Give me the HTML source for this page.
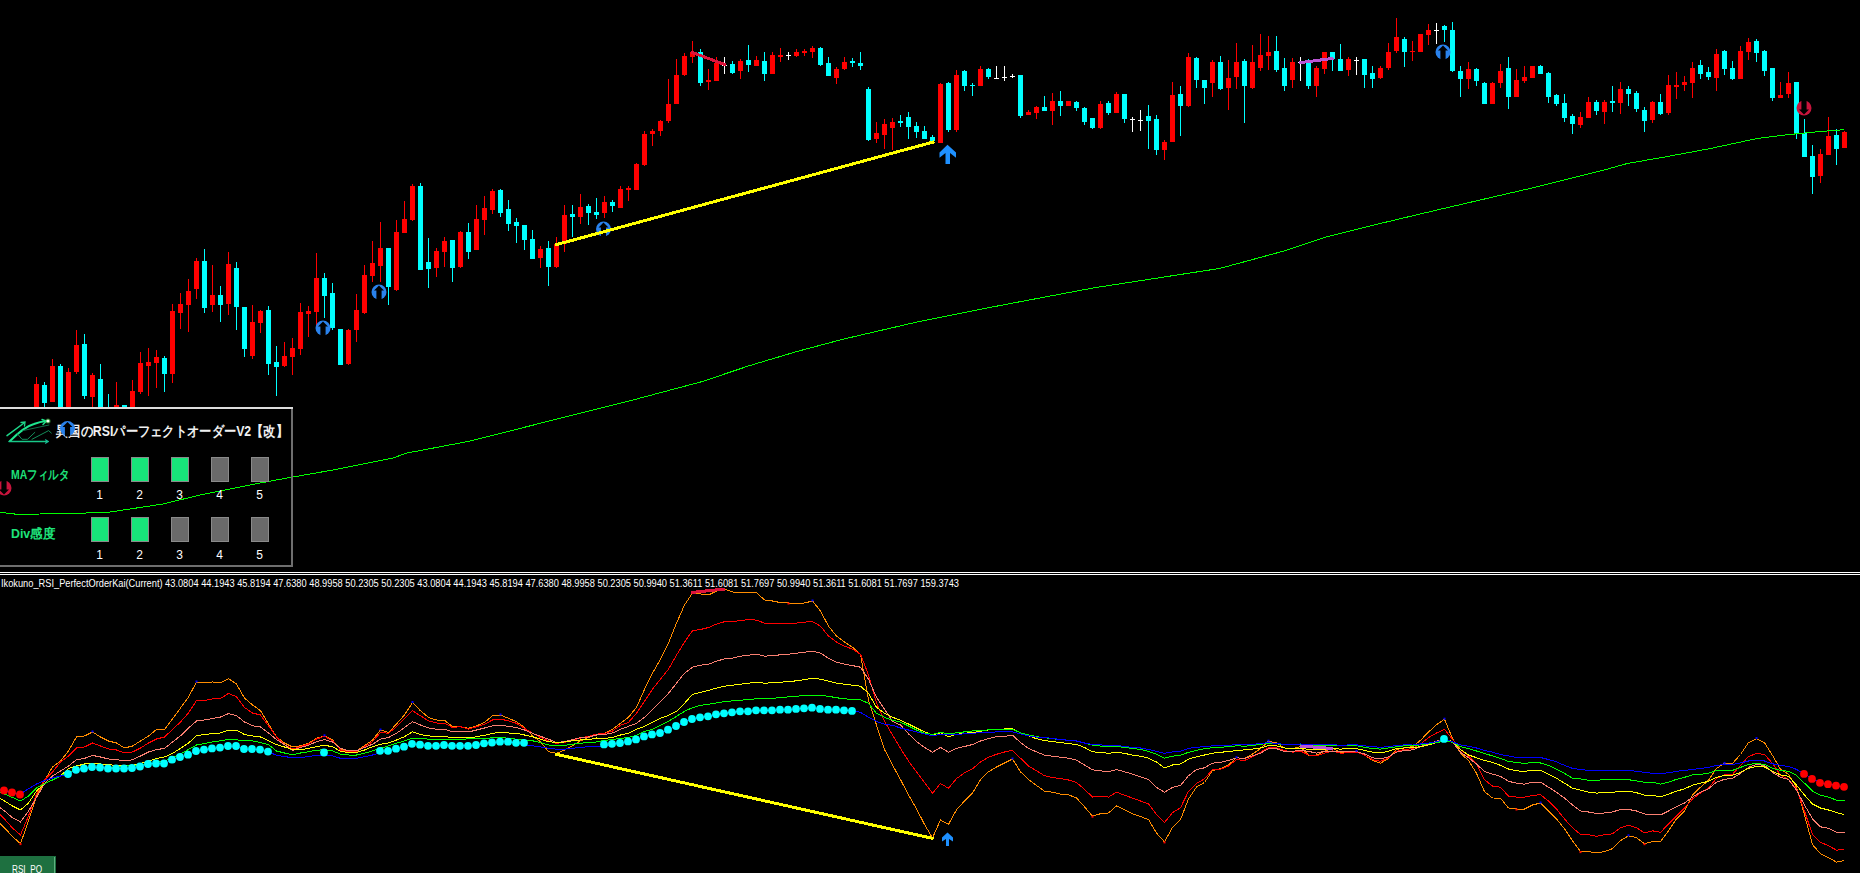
<!DOCTYPE html>
<html><head><meta charset="utf-8"><style>
html,body{margin:0;padding:0;background:#000;width:1860px;height:873px;overflow:hidden}
svg{display:block;font-family:"Liberation Sans",sans-serif}
</style></head><body>
<svg width="1860" height="873" viewBox="0 0 1860 873">
<rect width="1860" height="873" fill="#000"/>
<g shape-rendering="crispEdges">
<rect x="36" y="377" width="1" height="43" fill="#ff0000"/>
<rect x="34" y="384" width="5" height="36" fill="#ff0000"/>
<rect x="44" y="382" width="1" height="28" fill="#00ffff"/>
<rect x="42" y="385" width="5" height="18" fill="#00ffff"/>
<rect x="52" y="359" width="1" height="43" fill="#ff0000"/>
<rect x="50" y="366" width="5" height="36" fill="#ff0000"/>
<rect x="60" y="364" width="1" height="56" fill="#00ffff"/>
<rect x="58" y="366" width="5" height="54" fill="#00ffff"/>
<rect x="68" y="368" width="1" height="52" fill="#ff0000"/>
<rect x="66" y="372" width="5" height="48" fill="#ff0000"/>
<rect x="76" y="330" width="1" height="44" fill="#ff0000"/>
<rect x="74" y="345" width="5" height="27" fill="#ff0000"/>
<rect x="84" y="334" width="1" height="65" fill="#00ffff"/>
<rect x="82" y="344" width="5" height="52" fill="#00ffff"/>
<rect x="92" y="373" width="1" height="47" fill="#ff0000"/>
<rect x="90" y="375" width="5" height="22" fill="#ff0000"/>
<rect x="100" y="364" width="1" height="56" fill="#00ffff"/>
<rect x="98" y="379" width="5" height="41" fill="#00ffff"/>
<rect x="108" y="394" width="1" height="26" fill="#00ffff"/>
<rect x="106" y="410" width="5" height="10" fill="#00ffff"/>
<rect x="116" y="382" width="1" height="38" fill="#ff0000"/>
<rect x="114" y="405" width="5" height="15" fill="#ff0000"/>
<rect x="124" y="405" width="1" height="15" fill="#00ffff"/>
<rect x="122" y="405" width="5" height="15" fill="#00ffff"/>
<rect x="132" y="380" width="1" height="40" fill="#ff0000"/>
<rect x="130" y="391" width="5" height="29" fill="#ff0000"/>
<rect x="140" y="352" width="1" height="42" fill="#ff0000"/>
<rect x="138" y="363" width="5" height="29" fill="#ff0000"/>
<rect x="148" y="348" width="1" height="48" fill="#ff0000"/>
<rect x="146" y="362" width="5" height="4" fill="#ff0000"/>
<rect x="156" y="350" width="1" height="38" fill="#ff0000"/>
<rect x="154" y="357" width="5" height="6" fill="#ff0000"/>
<rect x="164" y="356" width="1" height="36" fill="#00ffff"/>
<rect x="162" y="358" width="5" height="16" fill="#00ffff"/>
<rect x="172" y="304" width="1" height="79" fill="#ff0000"/>
<rect x="170" y="311" width="5" height="63" fill="#ff0000"/>
<rect x="180" y="293" width="1" height="36" fill="#ff0000"/>
<rect x="178" y="304" width="5" height="9" fill="#ff0000"/>
<rect x="188" y="279" width="1" height="53" fill="#ff0000"/>
<rect x="186" y="291" width="5" height="14" fill="#ff0000"/>
<rect x="196" y="258" width="1" height="41" fill="#ff0000"/>
<rect x="194" y="261" width="5" height="28" fill="#ff0000"/>
<rect x="204" y="249" width="1" height="64" fill="#00ffff"/>
<rect x="202" y="261" width="5" height="47" fill="#00ffff"/>
<rect x="212" y="265" width="1" height="47" fill="#ff0000"/>
<rect x="210" y="295" width="5" height="10" fill="#ff0000"/>
<rect x="220" y="286" width="1" height="36" fill="#00ffff"/>
<rect x="218" y="295" width="5" height="10" fill="#00ffff"/>
<rect x="228" y="252" width="1" height="63" fill="#ff0000"/>
<rect x="226" y="264" width="5" height="40" fill="#ff0000"/>
<rect x="236" y="262" width="1" height="68" fill="#00ffff"/>
<rect x="234" y="268" width="5" height="39" fill="#00ffff"/>
<rect x="244" y="307" width="1" height="50" fill="#00ffff"/>
<rect x="242" y="307" width="5" height="42" fill="#00ffff"/>
<rect x="252" y="305" width="1" height="54" fill="#ff0000"/>
<rect x="250" y="322" width="5" height="34" fill="#ff0000"/>
<rect x="260" y="310" width="1" height="23" fill="#ff0000"/>
<rect x="258" y="311" width="5" height="12" fill="#ff0000"/>
<rect x="268" y="306" width="1" height="69" fill="#00ffff"/>
<rect x="266" y="310" width="5" height="54" fill="#00ffff"/>
<rect x="276" y="346" width="1" height="50" fill="#00ffff"/>
<rect x="274" y="362" width="5" height="5" fill="#00ffff"/>
<rect x="284" y="342" width="1" height="25" fill="#ff0000"/>
<rect x="282" y="356" width="5" height="10" fill="#ff0000"/>
<rect x="292" y="338" width="1" height="37" fill="#ff0000"/>
<rect x="290" y="348" width="5" height="9" fill="#ff0000"/>
<rect x="300" y="303" width="1" height="52" fill="#ff0000"/>
<rect x="298" y="312" width="5" height="37" fill="#ff0000"/>
<rect x="308" y="306" width="1" height="31" fill="#ff0000"/>
<rect x="306" y="311" width="5" height="3" fill="#ff0000"/>
<rect x="316" y="253" width="1" height="73" fill="#ff0000"/>
<rect x="314" y="278" width="5" height="34" fill="#ff0000"/>
<rect x="324" y="273" width="1" height="45" fill="#00ffff"/>
<rect x="322" y="278" width="5" height="18" fill="#00ffff"/>
<rect x="332" y="283" width="1" height="47" fill="#00ffff"/>
<rect x="330" y="293" width="5" height="35" fill="#00ffff"/>
<rect x="340" y="329" width="1" height="36" fill="#00ffff"/>
<rect x="338" y="329" width="5" height="36" fill="#00ffff"/>
<rect x="348" y="329" width="1" height="36" fill="#ff0000"/>
<rect x="346" y="330" width="5" height="34" fill="#ff0000"/>
<rect x="356" y="294" width="1" height="48" fill="#ff0000"/>
<rect x="354" y="310" width="5" height="20" fill="#ff0000"/>
<rect x="364" y="265" width="1" height="49" fill="#ff0000"/>
<rect x="362" y="275" width="5" height="38" fill="#ff0000"/>
<rect x="372" y="241" width="1" height="41" fill="#ff0000"/>
<rect x="370" y="263" width="5" height="13" fill="#ff0000"/>
<rect x="380" y="222" width="1" height="60" fill="#ff0000"/>
<rect x="378" y="248" width="5" height="18" fill="#ff0000"/>
<rect x="388" y="248" width="1" height="57" fill="#00ffff"/>
<rect x="386" y="248" width="5" height="39" fill="#00ffff"/>
<rect x="396" y="220" width="1" height="71" fill="#ff0000"/>
<rect x="394" y="232" width="5" height="58" fill="#ff0000"/>
<rect x="404" y="201" width="1" height="32" fill="#ff0000"/>
<rect x="402" y="219" width="5" height="14" fill="#ff0000"/>
<rect x="412" y="184" width="1" height="37" fill="#ff0000"/>
<rect x="410" y="186" width="5" height="34" fill="#ff0000"/>
<rect x="420" y="183" width="1" height="87" fill="#00ffff"/>
<rect x="418" y="186" width="5" height="84" fill="#00ffff"/>
<rect x="428" y="238" width="1" height="50" fill="#00ffff"/>
<rect x="426" y="262" width="5" height="7" fill="#00ffff"/>
<rect x="436" y="248" width="1" height="29" fill="#ff0000"/>
<rect x="434" y="251" width="5" height="17" fill="#ff0000"/>
<rect x="444" y="237" width="1" height="30" fill="#ff0000"/>
<rect x="442" y="241" width="5" height="11" fill="#ff0000"/>
<rect x="452" y="240" width="1" height="42" fill="#00ffff"/>
<rect x="450" y="240" width="5" height="28" fill="#00ffff"/>
<rect x="460" y="231" width="1" height="37" fill="#ff0000"/>
<rect x="458" y="232" width="5" height="35" fill="#ff0000"/>
<rect x="468" y="223" width="1" height="36" fill="#00ffff"/>
<rect x="466" y="232" width="5" height="20" fill="#00ffff"/>
<rect x="476" y="205" width="1" height="45" fill="#ff0000"/>
<rect x="474" y="219" width="5" height="31" fill="#ff0000"/>
<rect x="484" y="196" width="1" height="39" fill="#ff0000"/>
<rect x="482" y="208" width="5" height="12" fill="#ff0000"/>
<rect x="492" y="189" width="1" height="25" fill="#ff0000"/>
<rect x="490" y="191" width="5" height="19" fill="#ff0000"/>
<rect x="500" y="189" width="1" height="28" fill="#00ffff"/>
<rect x="498" y="190" width="5" height="23" fill="#00ffff"/>
<rect x="508" y="200" width="1" height="31" fill="#00ffff"/>
<rect x="506" y="209" width="5" height="15" fill="#00ffff"/>
<rect x="516" y="218" width="1" height="25" fill="#00ffff"/>
<rect x="514" y="222" width="5" height="4" fill="#00ffff"/>
<rect x="524" y="225" width="1" height="25" fill="#00ffff"/>
<rect x="522" y="225" width="5" height="15" fill="#00ffff"/>
<rect x="532" y="230" width="1" height="29" fill="#00ffff"/>
<rect x="530" y="239" width="5" height="20" fill="#00ffff"/>
<rect x="540" y="246" width="1" height="22" fill="#ff0000"/>
<rect x="538" y="249" width="5" height="9" fill="#ff0000"/>
<rect x="548" y="241" width="1" height="45" fill="#00ffff"/>
<rect x="546" y="248" width="5" height="19" fill="#00ffff"/>
<rect x="556" y="237" width="1" height="31" fill="#ff0000"/>
<rect x="554" y="244" width="5" height="23" fill="#ff0000"/>
<rect x="564" y="205" width="1" height="47" fill="#ff0000"/>
<rect x="562" y="215" width="5" height="29" fill="#ff0000"/>
<rect x="572" y="205" width="1" height="32" fill="#00ffff"/>
<rect x="570" y="214" width="5" height="3" fill="#00ffff"/>
<rect x="580" y="194" width="1" height="30" fill="#ff0000"/>
<rect x="578" y="207" width="5" height="10" fill="#ff0000"/>
<rect x="588" y="204" width="1" height="21" fill="#00ffff"/>
<rect x="586" y="206" width="5" height="7" fill="#00ffff"/>
<rect x="596" y="198" width="1" height="21" fill="#00ffff"/>
<rect x="594" y="212" width="5" height="3" fill="#00ffff"/>
<rect x="604" y="196" width="1" height="22" fill="#ff0000"/>
<rect x="602" y="202" width="5" height="11" fill="#ff0000"/>
<rect x="612" y="200" width="1" height="12" fill="#00ffff"/>
<rect x="610" y="202" width="5" height="4" fill="#00ffff"/>
<rect x="620" y="186" width="1" height="22" fill="#ff0000"/>
<rect x="618" y="189" width="5" height="19" fill="#ff0000"/>
<rect x="628" y="186" width="1" height="15" fill="#ff0000"/>
<rect x="626" y="188" width="5" height="2" fill="#ff0000"/>
<rect x="636" y="163" width="1" height="27" fill="#ff0000"/>
<rect x="634" y="164" width="5" height="26" fill="#ff0000"/>
<rect x="644" y="131" width="1" height="35" fill="#ff0000"/>
<rect x="642" y="134" width="5" height="31" fill="#ff0000"/>
<rect x="652" y="129" width="1" height="17" fill="#ff0000"/>
<rect x="650" y="131" width="5" height="3" fill="#ff0000"/>
<rect x="660" y="120" width="1" height="16" fill="#ff0000"/>
<rect x="658" y="121" width="5" height="10" fill="#ff0000"/>
<rect x="668" y="79" width="1" height="44" fill="#ff0000"/>
<rect x="666" y="104" width="5" height="17" fill="#ff0000"/>
<rect x="676" y="59" width="1" height="45" fill="#ff0000"/>
<rect x="674" y="75" width="5" height="29" fill="#ff0000"/>
<rect x="684" y="53" width="1" height="23" fill="#ff0000"/>
<rect x="682" y="56" width="5" height="19" fill="#ff0000"/>
<rect x="692" y="41" width="1" height="22" fill="#ff0000"/>
<rect x="690" y="52" width="5" height="5" fill="#ff0000"/>
<rect x="700" y="49" width="1" height="37" fill="#00ffff"/>
<rect x="698" y="52" width="5" height="31" fill="#00ffff"/>
<rect x="708" y="69" width="1" height="21" fill="#ff0000"/>
<rect x="706" y="80" width="5" height="2" fill="#ff0000"/>
<rect x="716" y="57" width="1" height="24" fill="#ff0000"/>
<rect x="714" y="63" width="5" height="18" fill="#ff0000"/>
<rect x="724" y="57" width="1" height="17" fill="#ffffff"/>
<rect x="722" y="65" width="5" height="1" fill="#ffffff"/>
<rect x="732" y="61" width="1" height="13" fill="#00ffff"/>
<rect x="730" y="64" width="5" height="9" fill="#00ffff"/>
<rect x="740" y="59" width="1" height="20" fill="#ff0000"/>
<rect x="738" y="61" width="5" height="10" fill="#ff0000"/>
<rect x="748" y="45" width="1" height="27" fill="#00ffff"/>
<rect x="746" y="60" width="5" height="5" fill="#00ffff"/>
<rect x="756" y="56" width="1" height="10" fill="#ff0000"/>
<rect x="754" y="60" width="5" height="6" fill="#ff0000"/>
<rect x="764" y="52" width="1" height="29" fill="#00ffff"/>
<rect x="762" y="61" width="5" height="13" fill="#00ffff"/>
<rect x="772" y="52" width="1" height="22" fill="#ff0000"/>
<rect x="770" y="55" width="5" height="19" fill="#ff0000"/>
<rect x="780" y="48" width="1" height="14" fill="#ff0000"/>
<rect x="778" y="55" width="5" height="2" fill="#ff0000"/>
<rect x="788" y="52" width="1" height="8" fill="#ffffff"/>
<rect x="786" y="55" width="5" height="1" fill="#ffffff"/>
<rect x="796" y="49" width="1" height="8" fill="#ff0000"/>
<rect x="794" y="52" width="5" height="4" fill="#ff0000"/>
<rect x="804" y="49" width="1" height="7" fill="#ff0000"/>
<rect x="802" y="51" width="5" height="2" fill="#ff0000"/>
<rect x="812" y="46" width="1" height="12" fill="#ff0000"/>
<rect x="810" y="48" width="5" height="4" fill="#ff0000"/>
<rect x="820" y="47" width="1" height="19" fill="#00ffff"/>
<rect x="818" y="48" width="5" height="17" fill="#00ffff"/>
<rect x="828" y="57" width="1" height="19" fill="#00ffff"/>
<rect x="826" y="63" width="5" height="13" fill="#00ffff"/>
<rect x="836" y="67" width="1" height="17" fill="#ff0000"/>
<rect x="834" y="69" width="5" height="9" fill="#ff0000"/>
<rect x="844" y="57" width="1" height="13" fill="#ff0000"/>
<rect x="842" y="62" width="5" height="7" fill="#ff0000"/>
<rect x="852" y="58" width="1" height="9" fill="#00ffff"/>
<rect x="850" y="61" width="5" height="2" fill="#00ffff"/>
<rect x="860" y="52" width="1" height="18" fill="#00ffff"/>
<rect x="858" y="63" width="5" height="3" fill="#00ffff"/>
<rect x="868" y="87" width="1" height="54" fill="#00ffff"/>
<rect x="866" y="89" width="5" height="51" fill="#00ffff"/>
<rect x="876" y="122" width="1" height="21" fill="#ff0000"/>
<rect x="874" y="133" width="5" height="6" fill="#ff0000"/>
<rect x="884" y="119" width="1" height="30" fill="#ff0000"/>
<rect x="882" y="124" width="5" height="11" fill="#ff0000"/>
<rect x="892" y="118" width="1" height="32" fill="#ff0000"/>
<rect x="890" y="122" width="5" height="6" fill="#ff0000"/>
<rect x="900" y="115" width="1" height="12" fill="#00ffff"/>
<rect x="898" y="121" width="5" height="2" fill="#00ffff"/>
<rect x="908" y="112" width="1" height="27" fill="#00ffff"/>
<rect x="906" y="117" width="5" height="10" fill="#00ffff"/>
<rect x="916" y="122" width="1" height="16" fill="#00ffff"/>
<rect x="914" y="126" width="5" height="6" fill="#00ffff"/>
<rect x="924" y="126" width="1" height="13" fill="#00ffff"/>
<rect x="922" y="131" width="5" height="8" fill="#00ffff"/>
<rect x="932" y="135" width="1" height="6" fill="#00ffff"/>
<rect x="930" y="137" width="5" height="4" fill="#00ffff"/>
<rect x="940" y="83" width="1" height="60" fill="#ff0000"/>
<rect x="938" y="84" width="5" height="59" fill="#ff0000"/>
<rect x="948" y="82" width="1" height="50" fill="#00ffff"/>
<rect x="946" y="83" width="5" height="47" fill="#00ffff"/>
<rect x="956" y="70" width="1" height="62" fill="#ff0000"/>
<rect x="954" y="75" width="5" height="55" fill="#ff0000"/>
<rect x="964" y="70" width="1" height="21" fill="#00ffff"/>
<rect x="962" y="71" width="5" height="15" fill="#00ffff"/>
<rect x="972" y="83" width="1" height="13" fill="#00ffff"/>
<rect x="970" y="85" width="5" height="1" fill="#00ffff"/>
<rect x="980" y="66" width="1" height="20" fill="#ff0000"/>
<rect x="978" y="69" width="5" height="17" fill="#ff0000"/>
<rect x="988" y="68" width="1" height="11" fill="#00ffff"/>
<rect x="986" y="69" width="5" height="8" fill="#00ffff"/>
<rect x="996" y="66" width="1" height="12" fill="#ffffff"/>
<rect x="994" y="78" width="5" height="1" fill="#ffffff"/>
<rect x="1004" y="66" width="1" height="15" fill="#ffffff"/>
<rect x="1002" y="77" width="5" height="1" fill="#ffffff"/>
<rect x="1012" y="74" width="1" height="4" fill="#ffffff"/>
<rect x="1010" y="76" width="5" height="1" fill="#ffffff"/>
<rect x="1020" y="75" width="1" height="43" fill="#00ffff"/>
<rect x="1018" y="75" width="5" height="41" fill="#00ffff"/>
<rect x="1028" y="110" width="1" height="5" fill="#ff0000"/>
<rect x="1026" y="112" width="5" height="3" fill="#ff0000"/>
<rect x="1036" y="106" width="1" height="13" fill="#ff0000"/>
<rect x="1034" y="107" width="5" height="6" fill="#ff0000"/>
<rect x="1044" y="96" width="1" height="15" fill="#00ffff"/>
<rect x="1042" y="107" width="5" height="4" fill="#00ffff"/>
<rect x="1052" y="93" width="1" height="32" fill="#ff0000"/>
<rect x="1050" y="101" width="5" height="10" fill="#ff0000"/>
<rect x="1060" y="91" width="1" height="25" fill="#00ffff"/>
<rect x="1058" y="101" width="5" height="5" fill="#00ffff"/>
<rect x="1068" y="101" width="1" height="5" fill="#ff0000"/>
<rect x="1066" y="101" width="5" height="5" fill="#ff0000"/>
<rect x="1076" y="101" width="1" height="10" fill="#00ffff"/>
<rect x="1074" y="102" width="5" height="6" fill="#00ffff"/>
<rect x="1084" y="107" width="1" height="18" fill="#00ffff"/>
<rect x="1082" y="108" width="5" height="14" fill="#00ffff"/>
<rect x="1092" y="118" width="1" height="11" fill="#00ffff"/>
<rect x="1090" y="118" width="5" height="10" fill="#00ffff"/>
<rect x="1100" y="101" width="1" height="28" fill="#ff0000"/>
<rect x="1098" y="104" width="5" height="24" fill="#ff0000"/>
<rect x="1108" y="101" width="1" height="14" fill="#00ffff"/>
<rect x="1106" y="103" width="5" height="10" fill="#00ffff"/>
<rect x="1116" y="92" width="1" height="21" fill="#ff0000"/>
<rect x="1114" y="94" width="5" height="19" fill="#ff0000"/>
<rect x="1124" y="94" width="1" height="29" fill="#00ffff"/>
<rect x="1122" y="94" width="5" height="25" fill="#00ffff"/>
<rect x="1132" y="117" width="1" height="15" fill="#ffffff"/>
<rect x="1130" y="119" width="5" height="1" fill="#ffffff"/>
<rect x="1140" y="110" width="1" height="21" fill="#ffffff"/>
<rect x="1138" y="120" width="5" height="1" fill="#ffffff"/>
<rect x="1148" y="105" width="1" height="44" fill="#00ffff"/>
<rect x="1146" y="116" width="5" height="5" fill="#00ffff"/>
<rect x="1156" y="115" width="1" height="40" fill="#00ffff"/>
<rect x="1154" y="119" width="5" height="31" fill="#00ffff"/>
<rect x="1164" y="140" width="1" height="20" fill="#ff0000"/>
<rect x="1162" y="142" width="5" height="8" fill="#ff0000"/>
<rect x="1172" y="82" width="1" height="60" fill="#ff0000"/>
<rect x="1170" y="95" width="5" height="47" fill="#ff0000"/>
<rect x="1180" y="86" width="1" height="50" fill="#00ffff"/>
<rect x="1178" y="94" width="5" height="12" fill="#00ffff"/>
<rect x="1188" y="53" width="1" height="54" fill="#ff0000"/>
<rect x="1186" y="57" width="5" height="49" fill="#ff0000"/>
<rect x="1196" y="57" width="1" height="31" fill="#00ffff"/>
<rect x="1194" y="58" width="5" height="22" fill="#00ffff"/>
<rect x="1204" y="80" width="1" height="24" fill="#00ffff"/>
<rect x="1202" y="80" width="5" height="8" fill="#00ffff"/>
<rect x="1212" y="60" width="1" height="37" fill="#ff0000"/>
<rect x="1210" y="62" width="5" height="21" fill="#ff0000"/>
<rect x="1220" y="56" width="1" height="34" fill="#00ffff"/>
<rect x="1218" y="62" width="5" height="27" fill="#00ffff"/>
<rect x="1228" y="60" width="1" height="50" fill="#ff0000"/>
<rect x="1226" y="78" width="5" height="10" fill="#ff0000"/>
<rect x="1236" y="43" width="1" height="46" fill="#ff0000"/>
<rect x="1234" y="62" width="5" height="15" fill="#ff0000"/>
<rect x="1244" y="59" width="1" height="64" fill="#00ffff"/>
<rect x="1242" y="61" width="5" height="25" fill="#00ffff"/>
<rect x="1252" y="45" width="1" height="44" fill="#ff0000"/>
<rect x="1250" y="62" width="5" height="26" fill="#ff0000"/>
<rect x="1260" y="34" width="1" height="37" fill="#ff0000"/>
<rect x="1258" y="55" width="5" height="13" fill="#ff0000"/>
<rect x="1268" y="36" width="1" height="34" fill="#ff0000"/>
<rect x="1266" y="52" width="5" height="4" fill="#ff0000"/>
<rect x="1276" y="36" width="1" height="36" fill="#00ffff"/>
<rect x="1274" y="51" width="5" height="19" fill="#00ffff"/>
<rect x="1284" y="58" width="1" height="33" fill="#00ffff"/>
<rect x="1282" y="68" width="5" height="18" fill="#00ffff"/>
<rect x="1292" y="58" width="1" height="30" fill="#ff0000"/>
<rect x="1290" y="62" width="5" height="18" fill="#ff0000"/>
<rect x="1300" y="57" width="1" height="24" fill="#ffffff"/>
<rect x="1298" y="62" width="5" height="1" fill="#ffffff"/>
<rect x="1308" y="59" width="1" height="30" fill="#00ffff"/>
<rect x="1306" y="62" width="5" height="24" fill="#00ffff"/>
<rect x="1316" y="66" width="1" height="31" fill="#ff0000"/>
<rect x="1314" y="68" width="5" height="18" fill="#ff0000"/>
<rect x="1324" y="52" width="1" height="22" fill="#ff0000"/>
<rect x="1322" y="52" width="5" height="17" fill="#ff0000"/>
<rect x="1332" y="52" width="1" height="19" fill="#00ffff"/>
<rect x="1330" y="52" width="5" height="7" fill="#00ffff"/>
<rect x="1340" y="44" width="1" height="27" fill="#00ffff"/>
<rect x="1338" y="59" width="5" height="12" fill="#00ffff"/>
<rect x="1348" y="57" width="1" height="19" fill="#ff0000"/>
<rect x="1346" y="59" width="5" height="11" fill="#ff0000"/>
<rect x="1356" y="57" width="1" height="18" fill="#ffffff"/>
<rect x="1354" y="60" width="5" height="1" fill="#ffffff"/>
<rect x="1364" y="59" width="1" height="29" fill="#00ffff"/>
<rect x="1362" y="59" width="5" height="16" fill="#00ffff"/>
<rect x="1372" y="66" width="1" height="22" fill="#00ffff"/>
<rect x="1370" y="73" width="5" height="6" fill="#00ffff"/>
<rect x="1380" y="66" width="1" height="13" fill="#ff0000"/>
<rect x="1378" y="68" width="5" height="10" fill="#ff0000"/>
<rect x="1388" y="43" width="1" height="27" fill="#ff0000"/>
<rect x="1386" y="52" width="5" height="16" fill="#ff0000"/>
<rect x="1396" y="18" width="1" height="35" fill="#ff0000"/>
<rect x="1394" y="37" width="5" height="14" fill="#ff0000"/>
<rect x="1404" y="37" width="1" height="30" fill="#00ffff"/>
<rect x="1402" y="39" width="5" height="13" fill="#00ffff"/>
<rect x="1412" y="41" width="1" height="20" fill="#ff0000"/>
<rect x="1410" y="51" width="5" height="1" fill="#ff0000"/>
<rect x="1420" y="34" width="1" height="18" fill="#ff0000"/>
<rect x="1418" y="34" width="5" height="18" fill="#ff0000"/>
<rect x="1428" y="24" width="1" height="21" fill="#ff0000"/>
<rect x="1426" y="30" width="5" height="5" fill="#ff0000"/>
<rect x="1436" y="23" width="1" height="21" fill="#ffffff"/>
<rect x="1434" y="30" width="5" height="1" fill="#ffffff"/>
<rect x="1444" y="25" width="1" height="17" fill="#00ffff"/>
<rect x="1442" y="26" width="5" height="4" fill="#00ffff"/>
<rect x="1452" y="22" width="1" height="50" fill="#00ffff"/>
<rect x="1450" y="30" width="5" height="41" fill="#00ffff"/>
<rect x="1460" y="66" width="1" height="31" fill="#00ffff"/>
<rect x="1458" y="71" width="5" height="8" fill="#00ffff"/>
<rect x="1468" y="62" width="1" height="27" fill="#ff0000"/>
<rect x="1466" y="69" width="5" height="10" fill="#ff0000"/>
<rect x="1476" y="68" width="1" height="18" fill="#00ffff"/>
<rect x="1474" y="69" width="5" height="12" fill="#00ffff"/>
<rect x="1484" y="82" width="1" height="22" fill="#00ffff"/>
<rect x="1482" y="83" width="5" height="21" fill="#00ffff"/>
<rect x="1492" y="82" width="1" height="22" fill="#ff0000"/>
<rect x="1490" y="83" width="5" height="21" fill="#ff0000"/>
<rect x="1500" y="64" width="1" height="24" fill="#ff0000"/>
<rect x="1498" y="71" width="5" height="12" fill="#ff0000"/>
<rect x="1508" y="57" width="1" height="52" fill="#00ffff"/>
<rect x="1506" y="68" width="5" height="29" fill="#00ffff"/>
<rect x="1516" y="69" width="1" height="28" fill="#ff0000"/>
<rect x="1514" y="80" width="5" height="17" fill="#ff0000"/>
<rect x="1524" y="66" width="1" height="17" fill="#ff0000"/>
<rect x="1522" y="77" width="5" height="4" fill="#ff0000"/>
<rect x="1532" y="66" width="1" height="12" fill="#ff0000"/>
<rect x="1530" y="66" width="5" height="12" fill="#ff0000"/>
<rect x="1540" y="65" width="1" height="9" fill="#00ffff"/>
<rect x="1538" y="66" width="5" height="8" fill="#00ffff"/>
<rect x="1548" y="72" width="1" height="31" fill="#00ffff"/>
<rect x="1546" y="73" width="5" height="24" fill="#00ffff"/>
<rect x="1556" y="94" width="1" height="12" fill="#00ffff"/>
<rect x="1554" y="95" width="5" height="9" fill="#00ffff"/>
<rect x="1564" y="94" width="1" height="28" fill="#00ffff"/>
<rect x="1562" y="103" width="5" height="15" fill="#00ffff"/>
<rect x="1572" y="114" width="1" height="20" fill="#00ffff"/>
<rect x="1570" y="116" width="5" height="8" fill="#00ffff"/>
<rect x="1580" y="112" width="1" height="16" fill="#ff0000"/>
<rect x="1578" y="117" width="5" height="8" fill="#ff0000"/>
<rect x="1588" y="97" width="1" height="21" fill="#ff0000"/>
<rect x="1586" y="102" width="5" height="16" fill="#ff0000"/>
<rect x="1596" y="100" width="1" height="15" fill="#00ffff"/>
<rect x="1594" y="102" width="5" height="9" fill="#00ffff"/>
<rect x="1604" y="100" width="1" height="24" fill="#ff0000"/>
<rect x="1602" y="102" width="5" height="10" fill="#ff0000"/>
<rect x="1612" y="86" width="1" height="26" fill="#00ffff"/>
<rect x="1610" y="101" width="5" height="2" fill="#00ffff"/>
<rect x="1620" y="82" width="1" height="32" fill="#ff0000"/>
<rect x="1618" y="89" width="5" height="14" fill="#ff0000"/>
<rect x="1628" y="86" width="1" height="20" fill="#00ffff"/>
<rect x="1626" y="89" width="5" height="5" fill="#00ffff"/>
<rect x="1636" y="91" width="1" height="21" fill="#00ffff"/>
<rect x="1634" y="93" width="5" height="16" fill="#00ffff"/>
<rect x="1644" y="107" width="1" height="25" fill="#00ffff"/>
<rect x="1642" y="110" width="5" height="11" fill="#00ffff"/>
<rect x="1652" y="101" width="1" height="22" fill="#ff0000"/>
<rect x="1650" y="102" width="5" height="18" fill="#ff0000"/>
<rect x="1660" y="94" width="1" height="21" fill="#00ffff"/>
<rect x="1658" y="102" width="5" height="12" fill="#00ffff"/>
<rect x="1668" y="75" width="1" height="40" fill="#ff0000"/>
<rect x="1666" y="85" width="5" height="28" fill="#ff0000"/>
<rect x="1676" y="72" width="1" height="27" fill="#ff0000"/>
<rect x="1674" y="85" width="5" height="2" fill="#ff0000"/>
<rect x="1684" y="76" width="1" height="15" fill="#ff0000"/>
<rect x="1682" y="82" width="5" height="3" fill="#ff0000"/>
<rect x="1692" y="62" width="1" height="36" fill="#ff0000"/>
<rect x="1690" y="68" width="5" height="15" fill="#ff0000"/>
<rect x="1700" y="60" width="1" height="19" fill="#00ffff"/>
<rect x="1698" y="65" width="5" height="9" fill="#00ffff"/>
<rect x="1708" y="67" width="1" height="13" fill="#00ffff"/>
<rect x="1706" y="72" width="5" height="5" fill="#00ffff"/>
<rect x="1716" y="49" width="1" height="42" fill="#ff0000"/>
<rect x="1714" y="54" width="5" height="24" fill="#ff0000"/>
<rect x="1724" y="50" width="1" height="25" fill="#00ffff"/>
<rect x="1722" y="51" width="5" height="18" fill="#00ffff"/>
<rect x="1732" y="61" width="1" height="19" fill="#00ffff"/>
<rect x="1730" y="68" width="5" height="11" fill="#00ffff"/>
<rect x="1740" y="46" width="1" height="33" fill="#ff0000"/>
<rect x="1738" y="51" width="5" height="28" fill="#ff0000"/>
<rect x="1748" y="38" width="1" height="22" fill="#ff0000"/>
<rect x="1746" y="42" width="5" height="10" fill="#ff0000"/>
<rect x="1756" y="39" width="1" height="23" fill="#00ffff"/>
<rect x="1754" y="41" width="5" height="12" fill="#00ffff"/>
<rect x="1764" y="50" width="1" height="26" fill="#00ffff"/>
<rect x="1762" y="51" width="5" height="20" fill="#00ffff"/>
<rect x="1772" y="68" width="1" height="33" fill="#00ffff"/>
<rect x="1770" y="68" width="5" height="30" fill="#00ffff"/>
<rect x="1780" y="82" width="1" height="16" fill="#ff0000"/>
<rect x="1778" y="95" width="5" height="3" fill="#ff0000"/>
<rect x="1788" y="72" width="1" height="26" fill="#ff0000"/>
<rect x="1786" y="83" width="5" height="11" fill="#ff0000"/>
<rect x="1796" y="82" width="1" height="57" fill="#00ffff"/>
<rect x="1794" y="82" width="5" height="52" fill="#00ffff"/>
<rect x="1804" y="119" width="1" height="38" fill="#00ffff"/>
<rect x="1802" y="133" width="5" height="24" fill="#00ffff"/>
<rect x="1812" y="145" width="1" height="49" fill="#00ffff"/>
<rect x="1810" y="156" width="5" height="21" fill="#00ffff"/>
<rect x="1820" y="149" width="1" height="34" fill="#ff0000"/>
<rect x="1818" y="154" width="5" height="22" fill="#ff0000"/>
<rect x="1828" y="117" width="1" height="38" fill="#ff0000"/>
<rect x="1826" y="136" width="5" height="19" fill="#ff0000"/>
<rect x="1836" y="129" width="1" height="36" fill="#00ffff"/>
<rect x="1834" y="135" width="5" height="14" fill="#00ffff"/>
<rect x="1844" y="131" width="1" height="17" fill="#ff0000"/>
<rect x="1842" y="132" width="5" height="16" fill="#ff0000"/>
</g>
<path d="M947.5 144.8 L956 152.6 L956 157.8 L950 153 L950 164 L945.5 164 L945.5 153 L939.5 157.8 L939.5 152.6 Z" fill="#1e90ff"/>
<g><circle cx="323" cy="328" r="7.5" fill="#2a82ec"/><path d="M323 321.5 L328 326.5 L325.6 326.5 L325.6 336 L320.4 336 L320.4 326.5 L318 326.5 Z" fill="#000"/></g>
<g><circle cx="379" cy="292" r="7.5" fill="#2a82ec"/><path d="M379 285.5 L384 290.5 L381.6 290.5 L381.6 300 L376.4 300 L376.4 290.5 L374 290.5 Z" fill="#000"/></g>
<g><circle cx="603.5" cy="229" r="7.5" fill="#2a82ec"/><path d="M603.5 222.5 L608.5 227.5 L606.1 227.5 L606.1 237 L600.9 237 L600.9 227.5 L598.5 227.5 Z" fill="#000"/></g>
<g><circle cx="1443" cy="52" r="7.5" fill="#2a82ec"/><path d="M1443 45.5 L1448 50.5 L1445.6 50.5 L1445.6 60 L1440.4 60 L1440.4 50.5 L1438 50.5 Z" fill="#000"/></g>
<g><circle cx="1804" cy="108" r="7.5" fill="#c8143c"/><path d="M1804 114.5 L1809 109.5 L1806.6 109.5 L1806.6 100 L1801.4 100 L1801.4 109.5 L1799 109.5 Z" fill="#000"/></g>
<polyline points="0,512.3 17,514.3 40,514 100,512.7 110,512 163,504 200,495 267,481.7 293,477 333,470 393,458 407,453 467,441.7 507,431.7 560,418.3 631,400.5 702,381.6 749,365.8 796.6,351.6 843.9,339 914.9,322.5 1000,305.5 1094.6,287.7 1220,268.4 1283.9,251 1326.5,236.9 1378.5,223.9 1440,209.3 1530.3,188.4 1607,169.2 1627.4,163.5 1665.8,156.8 1711,148.4 1756,138.7 1785.5,134.9 1814.8,132 1844.2,129.7" fill="none" stroke="#00ff00" stroke-width="1" shape-rendering="crispEdges"/>
<line x1="555" y1="245" x2="934.5" y2="141.7" stroke="#ffff00" stroke-width="3" shape-rendering="crispEdges"/>
<line x1="691" y1="52" x2="726" y2="65" stroke="#dc143c" stroke-width="3" shape-rendering="crispEdges"/>
<line x1="1299" y1="62.8" x2="1333.5" y2="58.3" stroke="#ba55d3" stroke-width="3" shape-rendering="crispEdges"/>
<!-- panel -->
<rect x="0" y="407" width="293" height="161" fill="#000"/>
<rect x="291" y="407" width="2" height="160" fill="#6e6e6e"/>
<rect x="0" y="565" width="293" height="2" fill="#6e6e6e"/>
<rect x="0" y="407" width="293" height="2" fill="#dcdcdc"/>
<polyline points="0,512.3 17,514.3 40,514 100,512.7 110,512 163,504 200,495 267,481.7 293,477 333,470 393,458 407,453 467,441.7 507,431.7 560,418.3 631,400.5 702,381.6 749,365.8 796.6,351.6 843.9,339 914.9,322.5 1000,305.5 1094.6,287.7 1220,268.4 1283.9,251 1326.5,236.9 1378.5,223.9 1440,209.3 1530.3,188.4 1607,169.2 1627.4,163.5 1665.8,156.8 1711,148.4 1756,138.7 1785.5,134.9 1814.8,132 1844.2,129.7" fill="none" stroke="#00ff00" stroke-width="1" shape-rendering="crispEdges" clip-path="url(#pclip)"/>
<clipPath id="pclip"><rect x="0" y="409" width="291" height="156"/></clipPath>
<g fill="none" stroke-linecap="round">
<path d="M7 435.6 L24 423" stroke="#1ed88a" stroke-width="1.5"/>
<path d="M21 422.5 L25 422 L24.5 426" stroke="#1ed88a" stroke-width="1.3"/>
<path d="M10 441 C18 433 26 426 34 424 C38 422.5 42 421.5 46 421" stroke="#1ee890" stroke-width="2"/>
<path d="M42 419.5 L46.5 421 L43 424.5" stroke="#1ee890" stroke-width="1.4"/>
<path d="M9 441.5 L48 441.5" stroke="#18c888" stroke-width="1.6"/>
<path d="M45.5 439.8 L48 441.5 L45.5 443.2" stroke="#18b898" stroke-width="1.2"/>
<path d="M17.4 433.8 L22 439.3 L27.5 439.3 L34.8 432.4" stroke="#148c5a" stroke-width="1"/>
<path d="M32 439.3 L48.6 430.6 L51.3 433" stroke="#148c5a" stroke-width="1"/>
<path d="M22.9 430.6 L49 425" stroke="#12704a" stroke-width="1"/>
</g>
<circle cx="48" cy="421" r="2.6" fill="#40c040" opacity="0.6"/>
<circle cx="48" cy="421" r="1.6" fill="#f4fff4"/>
<text x="56" y="436" font-size="14" font-weight="bold" fill="#f0f0f0" textLength="232" lengthAdjust="spacingAndGlyphs">異国のRSIパーフェクトオーダーV2【改】</text>
<g><circle cx="67.5" cy="428.5" r="7.5" fill="#2a82ec"/><path d="M67.5 422.0 L72.5 427.0 L70.1 427.0 L70.1 436.5 L64.9 436.5 L64.9 427.0 L62.5 427.0 Z" fill="#000"/></g>
<text x="11" y="479" font-size="13" font-weight="bold" fill="#1ee27a" textLength="58" lengthAdjust="spacingAndGlyphs">MAフィルタ</text>
<text x="11" y="538" font-size="13" font-weight="bold" fill="#1ee27a" textLength="44" lengthAdjust="spacingAndGlyphs">Div感度</text>
<rect x="91.5" y="457.5" width="17" height="24" fill="#18e67a" stroke="#8a8a8a" stroke-width="1"/><text x="99.5" y="499" font-size="12" fill="#fff" text-anchor="middle">1</text><rect x="131.5" y="457.5" width="17" height="24" fill="#18e67a" stroke="#8a8a8a" stroke-width="1"/><text x="139.5" y="499" font-size="12" fill="#fff" text-anchor="middle">2</text><rect x="171.5" y="457.5" width="17" height="24" fill="#18e67a" stroke="#8a8a8a" stroke-width="1"/><text x="179.5" y="499" font-size="12" fill="#fff" text-anchor="middle">3</text><rect x="211.5" y="457.5" width="17" height="24" fill="#6a6a6a" stroke="#8a8a8a" stroke-width="1"/><text x="219.5" y="499" font-size="12" fill="#fff" text-anchor="middle">4</text><rect x="251.5" y="457.5" width="17" height="24" fill="#6a6a6a" stroke="#8a8a8a" stroke-width="1"/><text x="259.5" y="499" font-size="12" fill="#fff" text-anchor="middle">5</text><rect x="91.5" y="517.5" width="17" height="24" fill="#18e67a" stroke="#8a8a8a" stroke-width="1"/><text x="99.5" y="559" font-size="12" fill="#fff" text-anchor="middle">1</text><rect x="131.5" y="517.5" width="17" height="24" fill="#18e67a" stroke="#8a8a8a" stroke-width="1"/><text x="139.5" y="559" font-size="12" fill="#fff" text-anchor="middle">2</text><rect x="171.5" y="517.5" width="17" height="24" fill="#6a6a6a" stroke="#8a8a8a" stroke-width="1"/><text x="179.5" y="559" font-size="12" fill="#fff" text-anchor="middle">3</text><rect x="211.5" y="517.5" width="17" height="24" fill="#6a6a6a" stroke="#8a8a8a" stroke-width="1"/><text x="219.5" y="559" font-size="12" fill="#fff" text-anchor="middle">4</text><rect x="251.5" y="517.5" width="17" height="24" fill="#6a6a6a" stroke="#8a8a8a" stroke-width="1"/><text x="259.5" y="559" font-size="12" fill="#fff" text-anchor="middle">5</text>
<g><circle cx="4" cy="488" r="7.5" fill="#c8143c"/><path d="M4 494.5 L9 489.5 L6.6 489.5 L6.6 480 L1.4 480 L1.4 489.5 L-1 489.5 Z" fill="#000"/></g>
<!-- separator -->
<rect x="0" y="572" width="1860" height="1" fill="#ffffff"/>
<rect x="0" y="574" width="1860" height="1" fill="#ffffff"/>
<text x="1" y="587" font-size="11" fill="#ffffff" textLength="958" lengthAdjust="spacingAndGlyphs">Ikokuno_RSI_PerfectOrderKai(Current) 43.0804 44.1943 45.8194 47.6380 48.9958 50.2305 50.2305 43.0804 44.1943 45.8194 47.6380 48.9958 50.2305 50.9940 51.3611 51.6081 51.7697 50.9940 51.3611 51.6081 51.7697 159.3743</text>
<!-- indicator -->
<polyline points="0,823.4 4.5,827.8 12.5,836.6 20.5,843.6 28.5,821.0 36.5,796.0 44.5,781.0 52.5,767.0 60.5,761.0 68.5,751.0 76.5,737.0 84.5,736.0 92.5,732.0 100.5,737.0 108.5,741.0 116.5,743.0 124.5,748.0 132.5,746.0 140.5,741.0 148.5,736.0 156.5,729.5 164.5,729.5 172.5,719.0 180.5,708.0 188.5,697.0 196.5,682.0 204.5,683.0 212.5,682.0 220.5,683.0 228.5,678.6 236.5,684.0 244.5,698.0 252.5,705.0 260.5,710.6 268.5,724.0 276.5,737.0 284.5,743.0 292.5,747.0 300.5,745.8 308.5,743.3 316.5,738.3 324.5,735.8 332.5,740.0 340.5,749.0 348.5,751.0 356.5,751.0 364.5,745.8 372.5,740.0 380.5,730.0 388.5,732.5 396.5,724.0 404.5,715.0 412.5,702.5 420.5,710.8 428.5,717.5 436.5,720.0 444.5,720.3 452.5,726.7 460.5,726.7 468.5,728.3 476.5,725.8 484.5,722.5 492.5,715.8 500.5,715.0 508.5,718.3 516.5,721.7 524.5,727.5 532.5,735.8 540.5,741.7 548.5,751.7 556.5,753.3 564.5,750.0 572.5,745.8 580.5,740.8 588.5,737.5 596.5,735.0 604.5,733.4 612.5,729.3 620.5,723.3 628.5,717.3 636.5,707.3 644.5,689.3 652.5,673.2 660.5,659.2 668.5,643.1 676.5,623.1 684.5,605.0 692.5,593.0 700.5,594.0 708.5,595.0 716.5,591.0 724.5,589.0 732.5,592.0 740.5,592.0 748.5,592.6 756.5,592.6 764.5,600.0 772.5,601.0 780.5,602.6 788.5,603.0 796.5,603.4 804.5,603.0 812.5,601.0 820.5,611.0 828.5,626.1 836.5,636.1 844.5,642.1 852.5,647.2 860.5,654.2 868.5,700.0 876.5,725.0 884.5,749.4 892.5,765.0 900.5,779.6 908.5,795.0 916.5,808.8 924.5,824.4 932.5,838.0 940.5,820.0 948.5,824.4 956.5,809.8 964.5,801.0 972.5,793.2 980.5,779.6 988.5,771.8 996.5,767.0 1004.5,763.0 1012.5,759.0 1020.5,771.8 1028.5,779.6 1036.5,785.4 1044.5,791.3 1052.5,792.2 1060.5,794.2 1068.5,794.8 1076.5,798.0 1084.5,806.8 1092.5,816.2 1100.5,813.7 1108.5,813.0 1116.5,805.9 1124.5,809.8 1132.5,813.7 1140.5,816.6 1148.5,819.5 1156.5,833.1 1164.5,841.9 1172.5,827.3 1180.5,819.5 1188.5,799.0 1196.5,787.0 1204.5,782.5 1212.5,770.6 1220.5,768.7 1228.5,765.0 1236.5,757.7 1244.5,758.6 1252.5,754.0 1260.5,748.6 1268.5,741.2 1276.5,743.0 1284.5,748.0 1292.5,748.6 1300.5,746.7 1308.5,755.0 1316.5,755.0 1324.5,751.3 1332.5,748.0 1340.5,752.2 1348.5,752.2 1356.5,751.3 1364.5,755.0 1372.5,760.5 1380.5,763.2 1388.5,758.6 1396.5,749.5 1404.5,747.7 1412.5,746.7 1420.5,740.3 1428.5,732.1 1436.5,724.7 1444.5,719.2 1452.5,738.5 1460.5,753.2 1468.5,760.5 1476.5,773.3 1484.5,791.6 1492.5,798.0 1500.5,798.1 1508.5,808.0 1516.5,809.0 1524.5,809.0 1532.5,805.0 1540.5,803.0 1548.5,811.0 1556.5,818.9 1564.5,828.8 1572.5,840.7 1580.5,851.6 1588.5,851.6 1596.5,853.0 1604.5,851.6 1612.5,848.6 1620.5,840.7 1628.5,835.8 1636.5,837.7 1644.5,843.7 1652.5,841.7 1660.5,841.7 1668.5,830.8 1676.5,818.9 1684.5,811.0 1692.5,795.1 1700.5,787.2 1708.5,780.3 1716.5,768.4 1724.5,763.4 1732.5,763.4 1740.5,754.5 1748.5,742.6 1756.5,738.6 1764.5,742.6 1772.5,755.5 1780.5,769.4 1788.5,774.3 1796.5,787.2 1804.5,814.9 1812.5,844.7 1820.5,853.6 1828.5,857.6 1836.5,862.1 1844.5,860.5" fill="none" stroke="#ff8c00" stroke-width="1" stroke-linejoin="round" shape-rendering="crispEdges" />
<polyline points="0,814.5 4.5,819.0 12.5,828.0 20.5,835.0 28.5,816.0 36.5,794.0 44.5,780.0 52.5,772.0 60.5,762.0 68.5,756.0 76.5,748.0 84.5,747.0 92.5,743.0 100.5,746.0 108.5,749.0 116.5,750.0 124.5,753.0 132.5,752.0 140.5,748.0 148.5,743.0 156.5,739.0 164.5,737.0 172.5,729.5 180.5,722.0 188.5,713.0 196.5,700.5 204.5,700.5 212.5,699.0 220.5,698.5 228.5,693.4 236.5,696.7 244.5,707.5 252.5,713.0 260.5,715.0 268.5,725.7 276.5,737.0 284.5,744.6 292.5,749.0 300.5,746.7 308.5,744.0 316.5,739.0 324.5,736.3 332.5,740.8 340.5,750.0 348.5,751.7 356.5,751.7 364.5,746.7 372.5,741.7 380.5,732.5 388.5,733.3 396.5,726.7 404.5,718.3 412.5,710.8 420.5,715.8 428.5,720.8 436.5,723.0 444.5,723.3 452.5,727.5 460.5,726.7 468.5,729.2 476.5,726.7 484.5,724.2 492.5,720.0 500.5,719.2 508.5,720.8 516.5,723.3 524.5,728.3 532.5,733.3 540.5,737.5 548.5,740.8 556.5,743.3 564.5,742.5 572.5,740.0 580.5,738.0 588.5,736.3 596.5,734.2 604.5,733.4 612.5,731.0 620.5,725.3 628.5,722.3 636.5,713.3 644.5,701.3 652.5,689.2 660.5,679.2 668.5,669.2 676.5,655.2 684.5,642.1 692.5,630.7 700.5,629.5 708.5,627.5 716.5,624.1 724.5,621.7 732.5,621.5 740.5,620.7 748.5,619.5 756.5,620.1 764.5,623.1 772.5,623.1 780.5,623.1 788.5,623.1 796.5,623.1 804.5,622.1 812.5,621.5 820.5,626.1 828.5,636.1 836.5,642.1 844.5,646.1 852.5,649.2 860.5,654.2 868.5,675.0 876.5,703.0 884.5,721.0 892.5,735.0 900.5,748.4 908.5,761.0 916.5,771.8 924.5,782.5 932.5,793.2 940.5,783.5 948.5,788.3 956.5,778.6 964.5,772.8 972.5,768.9 980.5,762.0 988.5,757.2 996.5,754.3 1004.5,752.0 1012.5,750.4 1020.5,758.2 1028.5,766.0 1036.5,770.8 1044.5,775.7 1052.5,777.6 1060.5,778.6 1068.5,780.0 1076.5,782.5 1084.5,789.3 1092.5,797.1 1100.5,796.1 1108.5,797.1 1116.5,792.2 1124.5,795.2 1132.5,798.1 1140.5,801.0 1148.5,803.9 1156.5,814.6 1164.5,822.4 1172.5,812.7 1180.5,807.8 1188.5,791.3 1196.5,783.5 1204.5,778.8 1212.5,769.6 1220.5,769.3 1228.5,766.0 1236.5,759.6 1244.5,760.5 1252.5,756.8 1260.5,752.2 1268.5,747.7 1276.5,748.0 1284.5,750.4 1292.5,752.2 1300.5,751.0 1308.5,755.0 1316.5,755.9 1324.5,753.2 1332.5,751.0 1340.5,753.2 1348.5,752.8 1356.5,752.2 1364.5,755.0 1372.5,759.6 1380.5,761.4 1388.5,757.7 1396.5,751.3 1404.5,749.5 1412.5,748.6 1420.5,744.0 1428.5,737.6 1436.5,733.0 1444.5,729.3 1452.5,739.4 1460.5,749.5 1468.5,755.9 1476.5,764.1 1484.5,779.7 1492.5,786.1 1500.5,787.2 1508.5,796.1 1516.5,797.1 1524.5,797.1 1532.5,795.5 1540.5,794.7 1548.5,801.1 1556.5,809.0 1564.5,818.9 1572.5,827.8 1580.5,834.4 1588.5,834.8 1596.5,836.3 1604.5,834.8 1612.5,833.8 1620.5,827.8 1628.5,825.3 1636.5,827.8 1644.5,832.8 1652.5,830.8 1660.5,832.4 1668.5,823.9 1676.5,815.9 1684.5,808.0 1692.5,799.1 1700.5,793.1 1708.5,788.2 1716.5,778.3 1724.5,774.9 1732.5,774.3 1740.5,765.4 1748.5,756.5 1756.5,753.5 1764.5,754.5 1772.5,763.4 1780.5,775.3 1788.5,779.3 1796.5,789.2 1804.5,811.0 1812.5,834.8 1820.5,842.3 1828.5,845.7 1836.5,850.2 1844.5,849.0" fill="none" stroke="#ff0000" stroke-width="1" stroke-linejoin="round" shape-rendering="crispEdges" />
<polyline points="0,807.6 4.5,811.0 12.5,817.7 20.5,822.0 28.5,811.0 36.5,797.5 44.5,783.6 52.5,776.0 60.5,771.0 68.5,766.0 76.5,759.7 84.5,758.4 92.5,755.4 100.5,757.0 108.5,759.0 116.5,759.5 124.5,761.0 132.5,759.7 140.5,756.0 148.5,752.0 156.5,749.6 164.5,748.4 172.5,742.0 180.5,735.8 188.5,728.0 196.5,721.0 204.5,720.0 212.5,718.6 220.5,717.0 228.5,713.6 236.5,715.6 244.5,722.0 252.5,725.7 260.5,727.0 268.5,733.0 276.5,739.5 284.5,744.6 292.5,750.4 300.5,747.5 308.5,745.3 316.5,741.7 324.5,739.7 332.5,742.0 340.5,748.3 348.5,750.8 356.5,750.8 364.5,747.5 372.5,744.2 380.5,739.2 388.5,737.5 396.5,733.3 404.5,727.5 412.5,721.7 420.5,725.0 428.5,728.0 436.5,729.2 444.5,729.2 452.5,732.0 460.5,731.7 468.5,732.0 476.5,730.0 484.5,728.0 492.5,725.8 500.5,725.5 508.5,726.3 516.5,727.5 524.5,730.0 532.5,733.3 540.5,736.3 548.5,739.2 556.5,742.5 564.5,741.7 572.5,739.7 580.5,737.5 588.5,737.0 596.5,735.0 604.5,734.4 612.5,733.0 620.5,729.3 628.5,726.3 636.5,723.3 644.5,717.3 652.5,709.3 660.5,701.3 668.5,693.3 676.5,683.2 684.5,673.2 692.5,667.2 700.5,665.2 708.5,664.2 716.5,661.2 724.5,658.8 732.5,658.2 740.5,656.2 748.5,655.2 756.5,654.2 764.5,656.2 772.5,655.6 780.5,654.8 788.5,654.2 796.5,653.2 804.5,652.2 812.5,651.2 820.5,653.2 828.5,658.2 836.5,662.2 844.5,664.2 852.5,665.6 860.5,667.2 868.5,679.2 876.5,697.3 884.5,709.3 892.5,721.3 900.5,725.0 908.5,733.8 916.5,741.6 924.5,747.4 932.5,752.3 940.5,747.4 948.5,752.3 956.5,748.4 964.5,746.5 972.5,744.5 980.5,741.0 988.5,738.7 996.5,736.7 1004.5,736.3 1012.5,735.2 1020.5,742.6 1028.5,748.4 1036.5,751.9 1044.5,755.2 1052.5,756.2 1060.5,757.2 1068.5,758.2 1076.5,760.1 1084.5,765.0 1092.5,769.8 1100.5,770.8 1108.5,771.8 1116.5,769.5 1124.5,771.8 1132.5,774.1 1140.5,776.7 1148.5,779.6 1156.5,787.4 1164.5,792.2 1172.5,787.4 1180.5,785.4 1188.5,775.7 1196.5,769.6 1204.5,767.8 1212.5,763.2 1220.5,762.3 1228.5,760.5 1236.5,757.7 1244.5,758.6 1252.5,755.9 1260.5,753.2 1268.5,748.6 1276.5,748.6 1284.5,751.7 1292.5,751.3 1300.5,750.4 1308.5,751.3 1316.5,753.2 1324.5,751.3 1332.5,751.3 1340.5,751.9 1348.5,751.7 1356.5,751.7 1364.5,754.0 1372.5,757.7 1380.5,759.0 1388.5,756.8 1396.5,752.2 1404.5,750.4 1412.5,749.9 1420.5,746.7 1428.5,743.6 1436.5,741.2 1444.5,739.4 1452.5,742.2 1460.5,752.2 1468.5,757.7 1476.5,764.1 1484.5,771.5 1492.5,774.2 1500.5,776.3 1508.5,781.3 1516.5,783.2 1524.5,784.2 1532.5,782.2 1540.5,782.2 1548.5,787.2 1556.5,792.2 1564.5,798.1 1572.5,805.0 1580.5,811.0 1588.5,812.0 1596.5,813.4 1604.5,813.0 1612.5,812.0 1620.5,809.4 1628.5,809.4 1636.5,811.0 1644.5,814.0 1652.5,814.0 1660.5,815.0 1668.5,811.0 1676.5,806.6 1684.5,803.0 1692.5,797.1 1700.5,792.2 1708.5,788.8 1716.5,782.2 1724.5,779.3 1732.5,778.3 1740.5,773.3 1748.5,767.4 1756.5,764.4 1764.5,765.4 1772.5,772.3 1780.5,777.3 1788.5,779.3 1796.5,790.2 1804.5,805.0 1812.5,818.9 1820.5,826.8 1828.5,828.4 1836.5,832.4 1844.5,832.4" fill="none" stroke="#fa8072" stroke-width="1" stroke-linejoin="round" shape-rendering="crispEdges" />
<polyline points="0,798.5 4.5,801.0 12.5,806.0 20.5,810.0 28.5,803.0 36.5,791.0 44.5,783.6 52.5,780.0 60.5,776.0 68.5,768.5 76.5,766.0 84.5,764.0 92.5,763.5 100.5,764.0 108.5,764.7 116.5,765.5 124.5,766.0 132.5,765.5 140.5,763.5 148.5,761.0 156.5,758.5 164.5,757.0 172.5,753.4 180.5,748.4 188.5,743.0 196.5,735.8 204.5,734.5 212.5,733.7 220.5,733.0 228.5,730.0 236.5,730.0 244.5,734.5 252.5,736.0 260.5,737.0 268.5,740.8 276.5,744.6 284.5,747.0 292.5,749.6 300.5,750.0 308.5,748.3 316.5,746.7 324.5,745.3 332.5,746.7 340.5,751.3 348.5,752.5 356.5,752.5 364.5,750.0 372.5,746.7 380.5,744.2 388.5,743.0 396.5,740.0 404.5,736.7 412.5,731.7 420.5,734.7 428.5,735.8 436.5,736.7 444.5,736.7 452.5,737.5 460.5,737.5 468.5,738.0 476.5,736.7 484.5,735.3 492.5,733.3 500.5,732.5 508.5,733.0 516.5,733.3 524.5,735.0 532.5,736.7 540.5,739.2 548.5,741.7 556.5,742.5 564.5,742.0 572.5,740.8 580.5,740.0 588.5,739.7 596.5,738.0 604.5,738.4 612.5,737.4 620.5,735.0 628.5,733.4 636.5,729.3 644.5,726.3 652.5,722.3 660.5,718.3 668.5,715.3 676.5,711.3 684.5,703.3 692.5,694.3 700.5,692.3 708.5,690.3 716.5,688.2 724.5,686.2 732.5,685.2 740.5,684.2 748.5,683.2 756.5,682.2 764.5,683.2 772.5,682.8 780.5,682.2 788.5,681.6 796.5,680.8 804.5,679.6 812.5,678.2 820.5,679.2 828.5,681.2 836.5,683.2 844.5,684.2 852.5,685.2 860.5,686.2 868.5,693.3 876.5,707.3 884.5,713.3 892.5,717.3 900.5,720.2 908.5,724.0 916.5,728.0 924.5,731.9 932.5,734.8 940.5,732.8 948.5,736.7 956.5,734.4 964.5,733.2 972.5,732.5 980.5,731.3 988.5,729.9 996.5,729.3 1004.5,729.0 1012.5,728.6 1020.5,732.8 1028.5,735.8 1036.5,738.7 1044.5,740.6 1052.5,741.6 1060.5,742.6 1068.5,743.6 1076.5,744.5 1084.5,747.4 1092.5,751.9 1100.5,752.3 1108.5,753.3 1116.5,752.3 1124.5,753.3 1132.5,755.2 1140.5,756.2 1148.5,758.2 1156.5,762.0 1164.5,767.9 1172.5,765.0 1180.5,764.0 1188.5,759.1 1196.5,756.8 1204.5,755.0 1212.5,753.2 1220.5,752.2 1228.5,751.7 1236.5,750.4 1244.5,749.9 1252.5,749.1 1260.5,748.0 1268.5,745.5 1276.5,745.8 1284.5,748.0 1292.5,748.6 1300.5,748.0 1308.5,749.5 1316.5,749.5 1324.5,749.1 1332.5,748.6 1340.5,749.1 1348.5,748.6 1356.5,748.6 1364.5,750.4 1372.5,752.2 1380.5,752.8 1388.5,751.3 1396.5,748.6 1404.5,748.0 1412.5,747.7 1420.5,746.7 1428.5,744.9 1436.5,742.5 1444.5,740.3 1452.5,741.2 1460.5,749.5 1468.5,755.0 1476.5,757.7 1484.5,760.5 1492.5,762.3 1500.5,765.4 1508.5,769.0 1516.5,770.9 1524.5,771.3 1532.5,770.4 1540.5,770.4 1548.5,774.3 1556.5,778.3 1564.5,783.2 1572.5,788.2 1580.5,790.2 1588.5,792.2 1596.5,793.1 1604.5,792.7 1612.5,792.2 1620.5,791.6 1628.5,791.2 1636.5,792.7 1644.5,795.1 1652.5,795.5 1660.5,796.7 1668.5,794.1 1676.5,791.2 1684.5,788.8 1692.5,785.2 1700.5,783.2 1708.5,781.3 1716.5,777.3 1724.5,775.3 1732.5,775.3 1740.5,772.3 1748.5,768.4 1756.5,766.4 1764.5,767.0 1772.5,771.3 1780.5,774.9 1788.5,776.3 1796.5,785.2 1804.5,795.1 1812.5,804.0 1820.5,808.0 1828.5,810.0 1836.5,812.6 1844.5,814.5" fill="none" stroke="#ffff00" stroke-width="1" stroke-linejoin="round" shape-rendering="crispEdges" />
<polyline points="0,792.2 4.5,794.0 12.5,797.5 20.5,801.0 28.5,796.0 36.5,788.0 44.5,783.6 52.5,780.0 60.5,776.0 68.5,772.0 76.5,770.0 84.5,768.0 92.5,767.8 100.5,767.5 108.5,767.2 116.5,767.0 124.5,766.2 132.5,765.5 140.5,764.8 148.5,764.0 156.5,762.5 164.5,761.0 172.5,757.5 180.5,754.0 188.5,749.5 196.5,745.0 204.5,743.5 212.5,742.0 220.5,740.8 228.5,739.5 236.5,739.9 244.5,740.4 252.5,740.8 260.5,742.7 268.5,744.6 276.5,751.0 284.5,753.0 292.5,754.7 300.5,753.0 308.5,751.7 316.5,750.3 324.5,749.7 332.5,750.8 340.5,754.2 348.5,755.0 356.5,755.0 364.5,753.3 372.5,750.8 380.5,748.3 388.5,745.8 396.5,743.3 404.5,740.8 412.5,738.3 420.5,738.7 428.5,739.1 436.5,739.6 444.5,740.0 452.5,739.6 460.5,739.3 468.5,738.9 476.5,738.6 484.5,738.2 492.5,737.9 500.5,737.5 508.5,738.3 516.5,739.2 524.5,740.0 532.5,740.8 540.5,742.5 548.5,745.0 556.5,745.8 564.5,745.3 572.5,744.2 580.5,743.3 588.5,742.5 596.5,742.0 604.5,740.4 612.5,739.4 620.5,738.4 628.5,737.4 636.5,735.4 644.5,731.3 652.5,729.3 660.5,725.3 668.5,721.3 676.5,716.3 684.5,711.3 692.5,707.7 700.5,705.3 708.5,704.3 716.5,702.9 724.5,701.7 732.5,700.9 740.5,700.3 748.5,699.3 756.5,698.9 764.5,698.3 772.5,698.3 780.5,697.7 788.5,696.9 796.5,696.3 804.5,695.3 812.5,695.3 820.5,695.3 828.5,696.3 836.5,697.7 844.5,698.9 852.5,699.3 860.5,699.7 868.5,703.3 876.5,713.3 884.5,717.3 892.5,720.3 900.5,722.1 908.5,726.0 916.5,730.0 924.5,733.2 932.5,734.4 940.5,732.5 948.5,733.8 956.5,732.8 964.5,731.9 972.5,730.9 980.5,730.5 988.5,729.9 996.5,729.9 1004.5,729.3 1012.5,729.3 1020.5,732.8 1028.5,734.8 1036.5,736.7 1044.5,737.7 1052.5,738.7 1060.5,739.7 1068.5,740.2 1076.5,741.0 1084.5,743.0 1092.5,745.1 1100.5,746.1 1108.5,746.5 1116.5,746.5 1124.5,747.4 1132.5,748.4 1140.5,749.4 1148.5,751.3 1156.5,754.3 1164.5,758.2 1172.5,756.2 1180.5,755.2 1188.5,752.3 1196.5,750.4 1204.5,748.6 1212.5,747.7 1220.5,747.3 1228.5,746.7 1236.5,745.8 1244.5,746.2 1252.5,745.5 1260.5,744.4 1268.5,743.1 1276.5,743.6 1284.5,744.9 1292.5,744.9 1300.5,744.9 1308.5,745.8 1316.5,745.8 1324.5,745.5 1332.5,745.5 1340.5,745.8 1348.5,745.8 1356.5,745.8 1364.5,747.3 1372.5,748.6 1380.5,749.1 1388.5,748.0 1396.5,746.7 1404.5,745.8 1412.5,745.5 1420.5,744.9 1428.5,743.6 1436.5,742.5 1444.5,741.2 1452.5,742.2 1460.5,746.7 1468.5,748.6 1476.5,751.0 1484.5,753.5 1492.5,755.9 1500.5,758.5 1508.5,761.4 1516.5,762.4 1524.5,763.4 1532.5,762.4 1540.5,763.0 1548.5,765.4 1556.5,769.4 1564.5,773.3 1572.5,778.3 1580.5,778.9 1588.5,780.3 1596.5,780.3 1604.5,779.7 1612.5,779.3 1620.5,779.3 1628.5,779.7 1636.5,780.9 1644.5,782.2 1652.5,782.2 1660.5,784.2 1668.5,782.2 1676.5,779.3 1684.5,777.3 1692.5,774.9 1700.5,774.3 1708.5,773.3 1716.5,770.4 1724.5,770.4 1732.5,770.4 1740.5,767.4 1748.5,764.4 1756.5,763.4 1764.5,764.4 1772.5,768.4 1780.5,770.4 1788.5,771.3 1796.5,775.3 1804.5,783.2 1812.5,791.2 1820.5,795.1 1828.5,797.1 1836.5,800.1 1844.5,800.7" fill="none" stroke="#00ff00" stroke-width="1" stroke-linejoin="round" shape-rendering="crispEdges" />
<polyline points="0,789.5 4.5,790.5 12.5,792.5 20.5,794.0 28.5,788.7 36.5,784.0 44.5,780.6 52.5,778.0 60.5,776.0 68.5,774.0 76.5,769.8 84.5,768.5 92.5,767.0 100.5,767.5 108.5,768.5 116.5,768.5 124.5,768.5 132.5,768.0 140.5,766.5 148.5,764.0 156.5,763.5 164.5,763.5 172.5,759.7 180.5,757.0 188.5,754.7 196.5,751.0 204.5,749.6 212.5,748.4 220.5,747.6 228.5,746.0 236.5,746.0 244.5,749.0 252.5,749.0 260.5,749.6 268.5,751.6 276.5,755.4 284.5,756.4 292.5,758.0 300.5,757.5 308.5,756.7 316.5,755.3 324.5,755.0 332.5,755.8 340.5,758.3 348.5,758.3 356.5,758.3 364.5,756.7 372.5,755.0 380.5,752.5 388.5,750.8 396.5,748.7 404.5,746.7 412.5,743.8 420.5,744.7 428.5,745.8 436.5,745.8 444.5,745.0 452.5,745.8 460.5,745.8 468.5,745.8 476.5,745.0 484.5,743.3 492.5,742.5 500.5,741.7 508.5,741.7 516.5,742.8 524.5,745.0 532.5,745.8 540.5,747.0 548.5,748.3 556.5,749.2 564.5,749.2 572.5,748.3 580.5,747.5 588.5,746.7 596.5,746.7 604.5,746.3 612.5,743.8 620.5,743.0 628.5,741.4 636.5,739.4 644.5,736.4 652.5,734.4 660.5,733.0 668.5,729.7 676.5,726.0 684.5,722.0 692.5,719.0 700.5,717.3 708.5,716.3 716.5,714.3 724.5,713.3 732.5,712.3 740.5,711.3 748.5,711.3 756.5,710.3 764.5,710.3 772.5,710.3 780.5,709.7 788.5,709.7 796.5,708.9 804.5,708.3 812.5,707.7 820.5,708.9 828.5,709.7 836.5,709.7 844.5,710.3 852.5,710.9 860.5,712.3 868.5,717.3 876.5,721.3 884.5,724.3 892.5,725.3 900.5,728.0 908.5,730.0 916.5,731.9 924.5,733.8 932.5,735.8 940.5,734.4 948.5,734.8 956.5,734.4 964.5,733.8 972.5,733.2 980.5,732.8 988.5,732.5 996.5,731.9 1004.5,731.9 1012.5,731.9 1020.5,733.8 1028.5,735.8 1036.5,737.1 1044.5,737.7 1052.5,738.3 1060.5,739.7 1068.5,740.2 1076.5,741.0 1084.5,743.0 1092.5,744.5 1100.5,744.9 1108.5,745.5 1116.5,745.5 1124.5,746.5 1132.5,747.4 1140.5,748.0 1148.5,749.4 1156.5,751.3 1164.5,753.3 1172.5,751.9 1180.5,751.3 1188.5,748.4 1196.5,747.3 1204.5,746.7 1212.5,745.8 1220.5,745.5 1228.5,745.5 1236.5,744.5 1244.5,744.9 1252.5,744.4 1260.5,743.6 1268.5,742.5 1276.5,743.6 1284.5,744.4 1292.5,744.4 1300.5,744.0 1308.5,744.9 1316.5,744.9 1324.5,744.9 1332.5,744.5 1340.5,745.5 1348.5,744.9 1356.5,744.9 1364.5,745.8 1372.5,746.7 1380.5,747.3 1388.5,746.7 1396.5,745.5 1404.5,744.9 1412.5,744.0 1420.5,744.0 1428.5,743.1 1436.5,741.8 1444.5,739.4 1452.5,741.8 1460.5,744.9 1468.5,746.2 1476.5,748.0 1484.5,750.4 1492.5,752.2 1500.5,754.5 1508.5,755.9 1516.5,757.5 1524.5,757.5 1532.5,757.5 1540.5,757.5 1548.5,759.5 1556.5,761.8 1564.5,765.4 1572.5,768.4 1580.5,769.4 1588.5,770.4 1596.5,770.4 1604.5,770.9 1612.5,770.4 1620.5,770.4 1628.5,770.4 1636.5,771.3 1644.5,772.3 1652.5,773.3 1660.5,773.3 1668.5,772.9 1676.5,771.3 1684.5,770.4 1692.5,769.4 1700.5,768.4 1708.5,767.4 1716.5,765.4 1724.5,764.4 1732.5,764.4 1740.5,763.0 1748.5,761.0 1756.5,760.4 1764.5,761.0 1772.5,763.8 1780.5,765.4 1788.5,766.4 1796.5,769.4 1804.5,773.9 1812.5,778.9 1820.5,782.8 1828.5,784.2 1836.5,785.6 1844.5,786.8" fill="none" stroke="#0000ff" stroke-width="1" stroke-linejoin="round" shape-rendering="crispEdges" />
<rect x="91.5" y="730.5" width="2" height="2" fill="#0000ff"/><rect x="195.5" y="680.5" width="2" height="2" fill="#0000ff"/><rect x="323.5" y="734.3" width="2" height="2" fill="#0000ff"/><rect x="379.5" y="728.5" width="2" height="2" fill="#0000ff"/><rect x="411.5" y="701.0" width="2" height="2" fill="#0000ff"/><rect x="499.5" y="713.5" width="2" height="2" fill="#0000ff"/><rect x="691.5" y="591.5" width="2" height="2" fill="#0000ff"/><rect x="811.5" y="599.5" width="2" height="2" fill="#0000ff"/><rect x="1011.5" y="757.5" width="2" height="2" fill="#0000ff"/><rect x="1235.5" y="756.2" width="2" height="2" fill="#0000ff"/><rect x="1267.5" y="739.7" width="2" height="2" fill="#0000ff"/><rect x="1355.5" y="749.8" width="2" height="2" fill="#0000ff"/><rect x="1443.5" y="717.7" width="2" height="2" fill="#0000ff"/><rect x="1539.5" y="801.5" width="2" height="2" fill="#0000ff"/><rect x="1627.5" y="834.3" width="2" height="2" fill="#0000ff"/><rect x="1723.5" y="761.9" width="2" height="2" fill="#0000ff"/><rect x="1755.5" y="737.1" width="2" height="2" fill="#0000ff"/><rect x="19.5" y="843.1" width="2" height="2" fill="#ff0000"/><rect x="787.5" y="602.5" width="2" height="2" fill="#ff0000"/><rect x="1091.5" y="815.7" width="2" height="2" fill="#ff0000"/><rect x="1163.5" y="841.4" width="2" height="2" fill="#ff0000"/><rect x="1515.5" y="808.5" width="2" height="2" fill="#ff0000"/><rect x="1579.5" y="851.1" width="2" height="2" fill="#ff0000"/><rect x="1643.5" y="843.2" width="2" height="2" fill="#ff0000"/>
<circle cx="68" cy="774.0" r="3.9" fill="#00ffff"/><circle cx="76" cy="769.8" r="3.9" fill="#00ffff"/><circle cx="84" cy="768.5" r="3.9" fill="#00ffff"/><circle cx="92" cy="767.0" r="3.9" fill="#00ffff"/><circle cx="100" cy="767.5" r="3.9" fill="#00ffff"/><circle cx="108" cy="768.5" r="3.9" fill="#00ffff"/><circle cx="116" cy="768.5" r="3.9" fill="#00ffff"/><circle cx="124" cy="768.5" r="3.9" fill="#00ffff"/><circle cx="132" cy="768.0" r="3.9" fill="#00ffff"/><circle cx="140" cy="766.5" r="3.9" fill="#00ffff"/><circle cx="148" cy="764.0" r="3.9" fill="#00ffff"/><circle cx="156" cy="763.5" r="3.9" fill="#00ffff"/><circle cx="164" cy="763.5" r="3.9" fill="#00ffff"/><circle cx="172" cy="759.7" r="3.9" fill="#00ffff"/><circle cx="180" cy="757.0" r="3.9" fill="#00ffff"/><circle cx="188" cy="754.7" r="3.9" fill="#00ffff"/><circle cx="196" cy="751.0" r="3.9" fill="#00ffff"/><circle cx="204" cy="749.6" r="3.9" fill="#00ffff"/><circle cx="212" cy="748.4" r="3.9" fill="#00ffff"/><circle cx="220" cy="747.6" r="3.9" fill="#00ffff"/><circle cx="228" cy="746.0" r="3.9" fill="#00ffff"/><circle cx="236" cy="746.0" r="3.9" fill="#00ffff"/><circle cx="244" cy="749.0" r="3.9" fill="#00ffff"/><circle cx="252" cy="749.0" r="3.9" fill="#00ffff"/><circle cx="260" cy="749.6" r="3.9" fill="#00ffff"/><circle cx="268" cy="751.6" r="3.9" fill="#00ffff"/><circle cx="324" cy="752.5" r="3.9" fill="#00ffff"/><circle cx="380" cy="750.8" r="3.9" fill="#00ffff"/><circle cx="388" cy="750.8" r="3.9" fill="#00ffff"/><circle cx="396" cy="748.7" r="3.9" fill="#00ffff"/><circle cx="404" cy="746.7" r="3.9" fill="#00ffff"/><circle cx="412" cy="743.8" r="3.9" fill="#00ffff"/><circle cx="420" cy="744.7" r="3.9" fill="#00ffff"/><circle cx="428" cy="745.8" r="3.9" fill="#00ffff"/><circle cx="436" cy="745.8" r="3.9" fill="#00ffff"/><circle cx="444" cy="745.0" r="3.9" fill="#00ffff"/><circle cx="452" cy="745.8" r="3.9" fill="#00ffff"/><circle cx="460" cy="745.8" r="3.9" fill="#00ffff"/><circle cx="468" cy="745.8" r="3.9" fill="#00ffff"/><circle cx="476" cy="745.0" r="3.9" fill="#00ffff"/><circle cx="484" cy="743.3" r="3.9" fill="#00ffff"/><circle cx="492" cy="742.5" r="3.9" fill="#00ffff"/><circle cx="500" cy="741.7" r="3.9" fill="#00ffff"/><circle cx="508" cy="741.7" r="3.9" fill="#00ffff"/><circle cx="516" cy="742.8" r="3.9" fill="#00ffff"/><circle cx="524" cy="742.8" r="3.9" fill="#00ffff"/><circle cx="604" cy="744.4" r="3.9" fill="#00ffff"/><circle cx="612" cy="743.8" r="3.9" fill="#00ffff"/><circle cx="620" cy="743.0" r="3.9" fill="#00ffff"/><circle cx="628" cy="741.4" r="3.9" fill="#00ffff"/><circle cx="636" cy="739.4" r="3.9" fill="#00ffff"/><circle cx="644" cy="736.4" r="3.9" fill="#00ffff"/><circle cx="652" cy="734.4" r="3.9" fill="#00ffff"/><circle cx="660" cy="733.0" r="3.9" fill="#00ffff"/><circle cx="668" cy="729.7" r="3.9" fill="#00ffff"/><circle cx="676" cy="726.0" r="3.9" fill="#00ffff"/><circle cx="684" cy="722.0" r="3.9" fill="#00ffff"/><circle cx="692" cy="719.0" r="3.9" fill="#00ffff"/><circle cx="700" cy="717.3" r="3.9" fill="#00ffff"/><circle cx="708" cy="716.3" r="3.9" fill="#00ffff"/><circle cx="716" cy="714.3" r="3.9" fill="#00ffff"/><circle cx="724" cy="713.3" r="3.9" fill="#00ffff"/><circle cx="732" cy="712.3" r="3.9" fill="#00ffff"/><circle cx="740" cy="711.3" r="3.9" fill="#00ffff"/><circle cx="748" cy="711.3" r="3.9" fill="#00ffff"/><circle cx="756" cy="710.3" r="3.9" fill="#00ffff"/><circle cx="764" cy="710.3" r="3.9" fill="#00ffff"/><circle cx="772" cy="710.3" r="3.9" fill="#00ffff"/><circle cx="780" cy="709.7" r="3.9" fill="#00ffff"/><circle cx="788" cy="709.7" r="3.9" fill="#00ffff"/><circle cx="796" cy="708.9" r="3.9" fill="#00ffff"/><circle cx="804" cy="708.3" r="3.9" fill="#00ffff"/><circle cx="812" cy="707.7" r="3.9" fill="#00ffff"/><circle cx="820" cy="708.9" r="3.9" fill="#00ffff"/><circle cx="828" cy="709.7" r="3.9" fill="#00ffff"/><circle cx="836" cy="709.7" r="3.9" fill="#00ffff"/><circle cx="844" cy="710.3" r="3.9" fill="#00ffff"/><circle cx="852" cy="710.9" r="3.9" fill="#00ffff"/><circle cx="1444" cy="738.9" r="3.9" fill="#00ffff"/>
<circle cx="4" cy="790.5" r="3.9" fill="#ff0000"/><circle cx="12" cy="792.5" r="3.9" fill="#ff0000"/><circle cx="20" cy="794.5" r="3.9" fill="#ff0000"/><circle cx="1804" cy="773.9" r="3.9" fill="#ff0000"/><circle cx="1812" cy="778.9" r="3.9" fill="#ff0000"/><circle cx="1820" cy="782.8" r="3.9" fill="#ff0000"/><circle cx="1828" cy="784.2" r="3.9" fill="#ff0000"/><circle cx="1836" cy="785.6" r="3.9" fill="#ff0000"/><circle cx="1844" cy="786.8" r="3.9" fill="#ff0000"/>
<line x1="555" y1="754" x2="933.5" y2="838.6" stroke="#ffff00" stroke-width="3" shape-rendering="crispEdges"/>
<line x1="691" y1="592.5" x2="725" y2="589" stroke="#dc143c" stroke-width="3" shape-rendering="crispEdges"/>
<line x1="1300" y1="746" x2="1333" y2="748.5" stroke="#ba55d3" stroke-width="3" shape-rendering="crispEdges"/>
<path d="M947.5 832.4 L953 837.5 L953 841.6 L949 839 L949 846 L946 846 L946 839 L942 841.6 L942 837.5 Z" fill="#1e90ff"/>
<!-- tab -->
<rect x="0" y="856" width="56" height="17" fill="#1e7040"/>
<rect x="54" y="857" width="1" height="16" fill="#5fb080"/>
<text x="12" y="873" font-size="11" fill="#ffffff" textLength="30" lengthAdjust="spacingAndGlyphs">RSI_PO</text>
</svg>
</body></html>
